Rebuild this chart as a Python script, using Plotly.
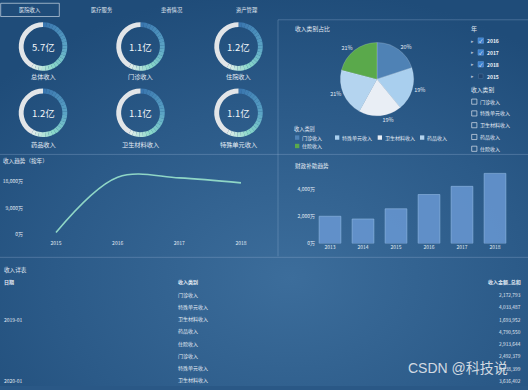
import base64
import plotly.graph_objects as go

# ---------------- data ----------------
tabs = ["医院收入", "医疗服务", "患者情况", "资产管理"]
categories = ["门诊收入", "特殊单元收入", "卫生材料收入", "药品收入", "住院收入"]
category_totals = [11400, 10900, 10800, 12000, 12000]  # 万
gauge_labels = ["总体收入", "门诊收入", "住院收入", "药品收入", "卫生材料收入", "特殊单元收入"]
trend_years = [2015, 2016, 2017, 2018]
trend_values = [700, 19300, 19100, 17400]  # 万
trend_ticks = [0, 9000, 18000]
subsidy_years = [2013, 2014, 2015, 2016, 2017, 2018]
subsidy_values = [2000, 1800, 2550, 3600, 4200, 5150]  # 万
subsidy_ticks = [0, 2000, 4000]
slicer_years = ["2016", "2017", "2018", "2015"]
slicer_checked = [True, True, True, False]
table_headers = ["日期", "收入类别", "收入金额_总和"]
table_dates = ["", "", "2019-01", "", "", "", "", "2020-01"]
table_categories = ["门诊收入", "特殊单元收入", "卫生材料收入", "药品收入", "住院收入",
                    "门诊收入", "特殊单元收入", "卫生材料收入"]
table_amounts = [2172793, 4033487, 1693952, 4790550, 2913644, 2492379, 4238399, 3616402]

# ---------------- style ----------------
W, H = 528, 390
FONT = "Noto Sans CJK SC, Open Sans, sans-serif"
TXT = "#e3ebf4"
pie_colors = ["#4f82b5", "#a9cfee", "#e9eef5", "#b4d4ef", "#5aa94b"]


def X(px):
    return px / W


def Y(py):
    return 1 - py / H


annotations = []
shapes = []


def txt(x, y, s, size=5.5, anchor="left", color=TXT, bold=False, family=FONT):
    if bold:
        s = "<b>" + s + "</b>"
    annotations.append(dict(x=X(x), y=Y(y), xref="paper", yref="paper", text=s,
                            showarrow=False, xanchor=anchor, yanchor="middle",
                            font=dict(size=size, color=color, family=family),
                            borderpad=0))


fig = go.Figure()

# background gradient
svg = (f'<svg xmlns="http://www.w3.org/2000/svg" width="{W}" height="{H}">'
       '<defs><radialGradient id="g" cx="0.55" cy="0.72" r="0.75">'
       '<stop offset="0" stop-color="#3c6d9b"/><stop offset="0.6" stop-color="#2b5a88"/>'
       '<stop offset="1" stop-color="#1f4c79"/></radialGradient></defs>'
       f'<rect width="{W}" height="{H}" fill="url(#g)"/></svg>')
bg_uri = "data:image/svg+xml;base64," + base64.b64encode(svg.encode()).decode()

# ---------------- gauges ----------------
total = sum(category_totals)
gauge_values = [total,
                category_totals[categories.index("门诊收入")],
                category_totals[categories.index("住院收入")],
                category_totals[categories.index("药品收入")],
                category_totals[categories.index("卫生材料收入")],
                category_totals[categories.index("特殊单元收入")]]
gauge_centers = [(43, 47), (140.5, 47), (238.5, 47), (43, 114), (140.5, 114), (238.5, 114)]
label_offsets = [30, 30, 30, 31.5, 31.5, 31.5]
R = 24.5

stops = [(0.0, (58, 118, 175)), (0.45, (92, 166, 198)), (0.75, (140, 218, 202)), (1.0, (222, 236, 232))]


def grad(t):
    for (t0, c0), (t1, c1) in zip(stops[:-1], stops[1:]):
        if t0 <= t <= t1:
            f = (t - t0) / (t1 - t0)
            c = [round(a + (b - a) * f) for a, b in zip(c0, c1)]
            return "rgb(%d,%d,%d)" % tuple(c)
    return "rgb(222,236,232)"


NSEG = 24
ring_share = 0.58
seg_vals = [ring_share / NSEG] * NSEG + [1 - ring_share]
seg_cols = [grad(i / (NSEG - 1)) for i in range(NSEG)] + ["#e2e5e8"]

for (cx, cy), lab, val, off in zip(gauge_centers, gauge_labels, gauge_values, label_offsets):
    fig.add_trace(go.Pie(values=seg_vals, marker=dict(colors=seg_cols, line=dict(width=0)),
                         hole=0.8, sort=False, direction="clockwise", rotation=0,
                         textinfo="none", hoverinfo="skip", showlegend=False,
                         domain=dict(x=[X(cx - R), X(cx + R)], y=[Y(cy + R), Y(cy - R)])))
    txt(cx, cy + 0.5, f"{val / 10000:.1f}亿", size=9.5, anchor="center", color="#f2f6fa")
    txt(cx, cy + off, lab, size=6.2, anchor="center")

# ---------------- pie ----------------
fig.add_trace(go.Pie(labels=categories, values=category_totals, sort=False,
                     direction="clockwise", rotation=0,
                     marker=dict(colors=pie_colors, line=dict(color="rgba(255,255,255,0.35)", width=0.5)),
                     textinfo="percent", texttemplate="%{percent:.0%}", textposition="outside",
                     textfont=dict(size=5.5, color=TXT, family=FONT),
                     showlegend=False, hoverinfo="label+percent",
                     domain=dict(x=[X(340), X(414)], y=[Y(117), Y(43)])))

# ---------------- line chart ----------------
fig.add_trace(go.Scatter(x=trend_years, y=trend_values, mode="lines",
                         line=dict(color="#8fd6c6", width=1.6, shape="spline"),
                         xaxis="x", yaxis="y", showlegend=False))

# ---------------- bar chart ----------------
fig.add_trace(go.Bar(x=subsidy_years, y=subsidy_values, width=0.66,
                     marker=dict(color="rgba(104,152,210,0.85)",
                                 line=dict(color="rgba(150,190,232,0.7)", width=0.8)),
                     xaxis="x2", yaxis="y2", showlegend=False))

axis_common = dict(showgrid=False, zeroline=False, showline=False, ticks="",
                   tickfont=dict(size=5, color=TXT, family=FONT), fixedrange=True)

# line chart axes: 2015->56px, 2018->241px ; 0->237px, 3px per 1000
lx0, lx1 = 24, 265
ly_top, ly_bot = 170, 241
px_per_year = (241 - 56) / 3
px_per_unit = 0.003
fig.update_layout(
    xaxis=dict(domain=[X(lx0), X(lx1)],
               range=[2015 - (56 - lx0) / px_per_year, 2018 + (lx1 - 241) / px_per_year],
               tickvals=trend_years, anchor="y", **axis_common),
    yaxis=dict(domain=[Y(ly_bot), Y(ly_top)],
               range=[-(ly_bot - 237) / px_per_unit, (237 - ly_top) / px_per_unit],
               tickvals=trend_ticks, ticktext=[f"{v:,}万" for v in trend_ticks], anchor="x",
               **axis_common),
)

# bar chart axes: 2013->330px, 2018->495px ; 0->246px, 13.75px per 1000
bx0, bx1 = 316, 515
by_top, by_bot = 168, 246
bppy = (495 - 330) / 5
bppu = 0.01375
fig.update_layout(
    xaxis2=dict(domain=[X(bx0), X(bx1)],
                range=[2013 - (330 - bx0) / bppy, 2018 + (bx1 - 495) / bppy],
                tickvals=subsidy_years, anchor="y2", **axis_common),
    yaxis2=dict(domain=[Y(by_bot), Y(by_top)],
                range=[0, (by_bot - by_top) / bppu],
                tickvals=subsidy_ticks, ticktext=[f"{v:,}万" for v in subsidy_ticks], anchor="x2",
                **axis_common),
)

# ---------------- tabs ----------------
tab_x = [30, 101.7, 171.7, 246.7]
for i, (t, x) in enumerate(zip(tabs, tab_x)):
    txt(x, 10, t, size=5.3, anchor="center")
shapes.append(dict(type="rect", xref="paper", yref="paper", x0=X(0.7), x1=X(59.3),
                   y0=Y(16.7), y1=Y(3.3), line=dict(color="rgba(220,230,240,0.8)", width=0.8)))

# separators
sep = dict(color="rgba(170,195,225,0.28)", width=1)
for (x0, y0, x1, y1) in [(278, 20, 528, 20), (0, 156, 528, 156), (278, 20, 278, 259), (0, 260, 528, 260)]:
    shapes.append(dict(type="line", xref="paper", yref="paper", x0=X(x0), x1=X(x1),
                       y0=Y(y0), y1=Y(y1), line=sep))

# titles
txt(294, 29, "收入类别占比", size=5.8)
txt(2, 163, "收入趋势（按年）", size=5.6)
txt(294, 168, "财政补助趋势", size=5.6)
txt(3, 273, "收入详表", size=5.6)

# pie legend
txt(293, 130.5, "收入类别", size=5.2)
leg_pos = [(295, 139), (335, 139), (377.7, 139), (420, 139), (295, 147.5)]
for (lx, ly), c, lab in zip(leg_pos, pie_colors, categories):
    shapes.append(dict(type="rect", xref="paper", yref="paper", x0=X(lx), x1=X(lx + 4.3),
                       y0=Y(ly + 2.2), y1=Y(ly - 2.2), fillcolor=c, line=dict(width=0)))
    txt(lx + 6, ly, lab, size=5)

# slicer: years
txt(470, 28.5, "年", size=6)
for i, (yr, chk) in enumerate(zip(slicer_years, slicer_checked)):
    yy = 41 + i * 12
    txt(472.5, yy, "▸", size=4.5, anchor="center", color="rgba(210,220,235,0.8)")
    if chk:
        shapes.append(dict(type="rect", xref="paper", yref="paper", x0=X(478), x1=X(483.5),
                           y0=Y(yy + 2.75), y1=Y(yy - 2.75), fillcolor="#3a7fcf",
                           line=dict(color="#6aa2e0", width=0.5)))
        txt(480.75, yy, "✓", size=5, anchor="center", color="#ffffff")
    else:
        shapes.append(dict(type="rect", xref="paper", yref="paper", x0=X(478.5), x1=X(483),
                           y0=Y(yy + 2.25), y1=Y(yy - 2.25), fillcolor="rgba(30,60,100,0.6)",
                           line=dict(color="rgba(120,150,190,0.5)", width=0.5)))
    txt(486, yy, yr, size=5, color="#f0f4f8", bold=True)

# slicer: categories
txt(470, 90.5, "收入类别", size=5.8)
for i, lab in enumerate(categories):
    yy = 102.7 + i * 11.9
    shapes.append(dict(type="rect", xref="paper", yref="paper", x0=X(471.7), x1=X(476.9),
                       y0=Y(yy + 2.6), y1=Y(yy - 2.6),
                       line=dict(color="rgba(225,232,240,0.85)", width=0.8)))
    txt(479.3, yy, lab, size=5)

# ---------------- table ----------------
txt(3, 285, table_headers[0], size=5, bold=True)
txt(177, 285, table_headers[1], size=5, bold=True)
txt(522, 285, table_headers[2], size=5, anchor="right", bold=True)
for i, (d, c, a) in enumerate(zip(table_dates, table_categories, table_amounts)):
    yy = 297.7 + i * 12.37
    if d:
        txt(3, yy, d, size=5)
    txt(177, yy, c, size=5)
    txt(522, yy, f"{a:,}", size=4.8, anchor="right")

# watermark
txt(458, 372, "CSDN @科技说", size=14, anchor="center", color="rgba(226,230,236,0.92)",
    family="Liberation Sans, Noto Sans CJK SC, sans-serif")

fig.update_layout(
    width=W, height=H, autosize=False,
    margin=dict(l=0, r=0, t=0, b=0),
    paper_bgcolor="#2a5886", plot_bgcolor="rgba(0,0,0,0)",
    font=dict(family=FONT, color=TXT),
    annotations=annotations, shapes=shapes,
    images=[dict(source=bg_uri, xref="paper", yref="paper", x=0, y=1, sizex=1, sizey=1,
                 xanchor="left", yanchor="top", sizing="stretch", layer="below")],
    showlegend=False,
)

fig.write_html("out.html", config={"displayModeBar": False},
               post_script="document.body.style.margin='0';document.body.style.overflow='hidden';")
